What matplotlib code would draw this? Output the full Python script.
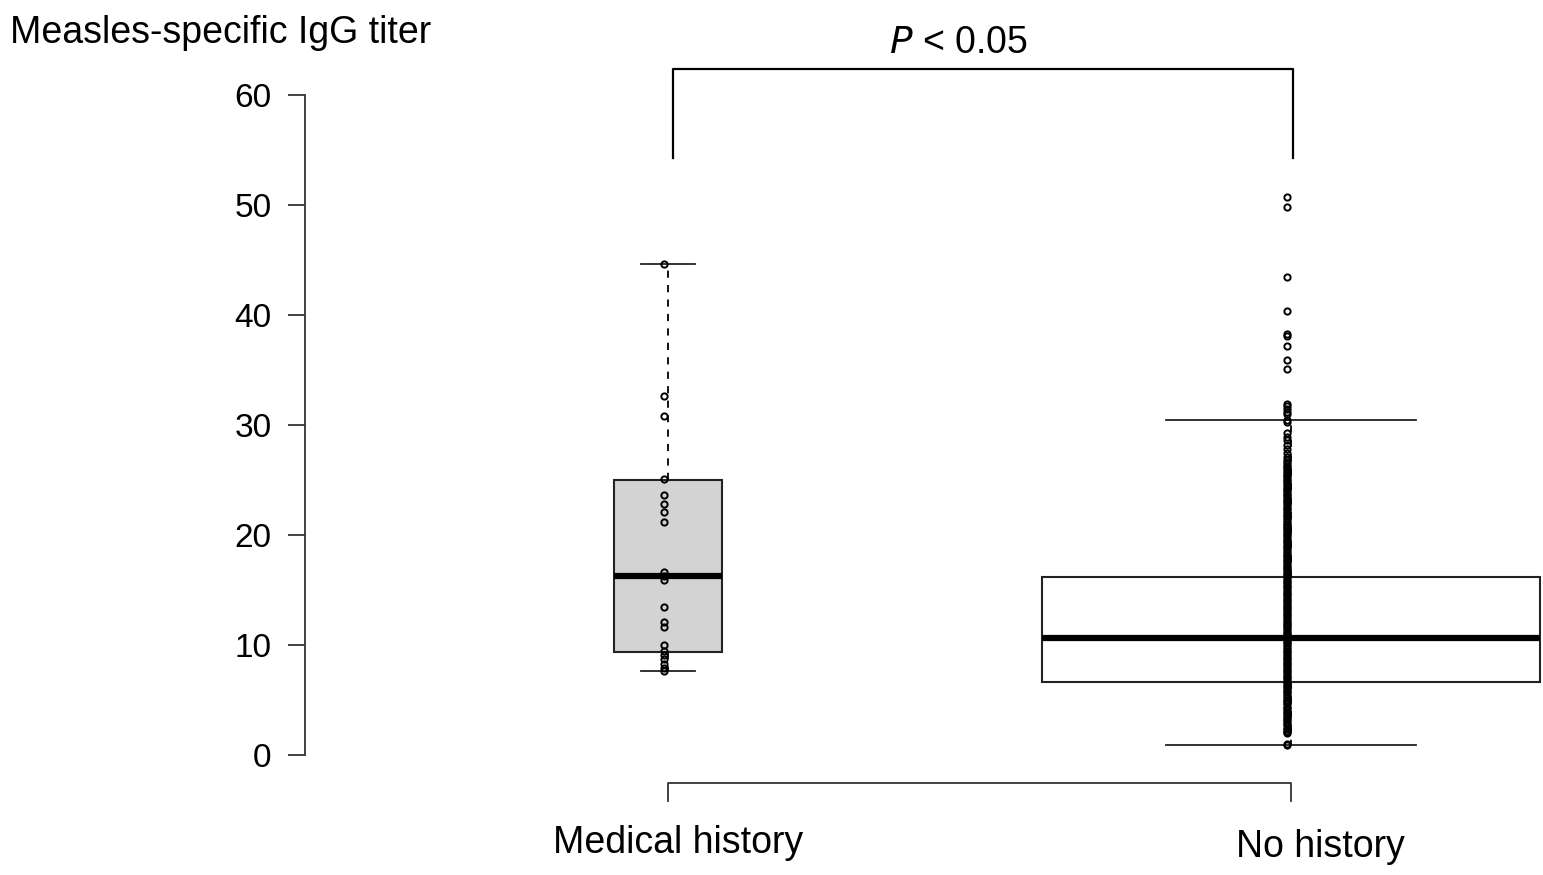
import matplotlib
matplotlib.use("Agg")
import matplotlib.pyplot as plt

plt.rcParams['font.family'] = ['Liberation Sans', 'DejaVu Sans']

# Data
groups = ["Medical history", "No history"]
positions = [1, 2]
box_widths = [0.172, 0.80]
box_fill = ["#d3d3d3", "white"]

# box statistics (R style boxplot)
q1 = [9.4, 6.6]
medians = [16.3, 10.6]
q3 = [25.0, 16.2]
whis_lo = [7.6, 0.9]
whis_hi = [44.6, 30.5]

medical_points = [44.6, 32.6, 30.8, 25.1, 23.6, 22.8, 22.1, 21.2, 16.6, 16.3,
                  15.9, 13.5, 12.1, 11.6, 10.0, 9.5, 9.1, 8.7, 8.3, 7.9, 7.6]

no_history_points = [
    50.7, 49.8, 43.5, 40.4, 38.3, 38.1, 37.2, 35.9, 35.1,
    31.9, 31.7, 31.5, 31.2, 31.0, 30.5, 30.3, 29.3, 28.9, 28.6, 28.2,
    27.8, 27.5, 27.1, 26.8, 26.5, 26.3, 26.0, 25.8, 25.5, 25.2, 25.0,
    24.7, 24.4, 24.2, 23.9, 23.6, 23.3, 23.1, 22.8, 22.5, 22.2, 22.0,
    21.7, 21.4, 21.2, 20.9, 20.6, 20.3, 20.1, 19.8, 19.5, 19.2, 19.0,
    18.7, 18.4, 18.2, 17.9, 17.6, 17.3, 17.1, 16.8, 16.5, 16.2, 16.0,
    15.7, 15.4, 15.1, 14.9, 14.6, 14.3, 14.1, 13.8, 13.5, 13.2, 13.0,
    12.7, 12.4, 12.2, 11.9, 11.6, 11.3, 11.1, 10.8, 10.6, 10.3, 10.0,
    9.8, 9.5, 9.2, 9.0, 8.7, 8.4, 8.1, 7.9, 7.6, 7.3, 7.1, 6.8, 6.5,
    6.3, 6.0, 5.7, 5.4, 5.2, 4.9, 4.6, 4.4, 4.1, 3.8, 3.5, 3.3, 3.0,
    2.7, 2.5, 2.2, 2.0, 1.0, 0.9,
    26.62, 26.14, 25.66, 25.33, 24.87, 24.55, 24.06, 23.77, 23.44, 22.96,
    22.63, 22.35, 21.86, 21.55, 21.04, 20.77, 20.45, 19.97, 19.64, 19.36,
    18.87, 18.55, 18.06, 17.74, 17.45, 16.96, 16.65, 16.33, 15.86, 15.55,
    15.24, 14.75, 14.44, 13.96, 13.66, 13.35, 12.86, 12.55, 12.04, 11.76,
    11.44, 10.96, 10.66, 10.45, 10.14, 9.66, 9.35, 8.86, 8.55, 8.24,
    7.76, 7.45, 6.96, 6.64, 6.15, 5.86, 5.55, 5.04, 4.76, 4.24, 3.95,
    3.64, 3.15, 2.86, 2.35, 2.1,
]
points = [medical_points, no_history_points]

yticks = [0, 10, 20, 30, 40, 50, 60]

fig = plt.figure(figsize=(15.43, 8.75), dpi=100)
ax = fig.add_axes([305 / 1543, 0, 1 - 305 / 1543, 1])
ax.set_xlim(1 - 363 / 623, 2 + 252 / 623)
ax.set_ylim(-120 / 11, 755 / 11)

stats = []
for i in range(2):
    stats.append(dict(med=medians[i], q1=q1[i], q3=q3[i],
                      whislo=whis_lo[i], whishi=whis_hi[i], fliers=[]))

for i in range(2):
    ax.bxp([stats[i]], positions=[positions[i]], widths=box_widths[i],
           showfliers=False, patch_artist=True,
           boxprops=dict(facecolor=box_fill[i], edgecolor="#222222", linewidth=1.5),
           medianprops=dict(color="black", linewidth=4.5),
           whiskerprops=dict(color="black", linewidth=1.3, linestyle=(0, (4, 4))),
           capprops=dict(color="#222222", linewidth=1.3),
           capwidths=box_widths[i] / 2,
           manage_ticks=False)

# open circles, unfilled so overlapping points build up into a solid column
for i in range(2):
    ax.plot([positions[i] - 0.007] * len(points[i]), points[i], linestyle="none",
            marker="o", markersize=4.5, markerfacecolor="none",
            markeredgecolor="black", markeredgewidth=1.4, zorder=5)

# axis styling
for s in ["top", "right", "bottom"]:
    ax.spines[s].set_visible(False)
ax.spines["left"].set_bounds(0, 60)
ax.spines["left"].set_linewidth(1.3)
ax.spines["left"].set_color("#333333")
ax.set_yticks(yticks)
ax.set_xticks([])
ax.tick_params(axis="y", length=12, width=1.3, color="#333333", pad=12, labelsize=24)

# lower group bracket
ax.plot([positions[0], positions[0], positions[1], positions[1]],
        [-4.15, -2.55, -2.55, -4.15], color="#333333", linewidth=1.3, clip_on=False)
ax.text(1.016, -8.0, groups[0], ha="center", va="center", fontsize=27)
ax.text(2.047, -8.36, groups[1], ha="center", va="center", fontsize=27)

# significance bracket
ax.plot([1.008, 1.008, 2.003, 2.003], [54.27, 62.36, 62.36, 54.27],
        color="black", linewidth=1.6, clip_on=False)
ax.text(1.4655, 64.7, r"$\it{P}$ < 0.05", ha="center", va="center", fontsize=27)

fig.text(10 / 1543, 1 - 33 / 875, "Measles-specific IgG titer",
         ha="left", va="center", fontsize=27)

fig.savefig("out.png", dpi=100)
